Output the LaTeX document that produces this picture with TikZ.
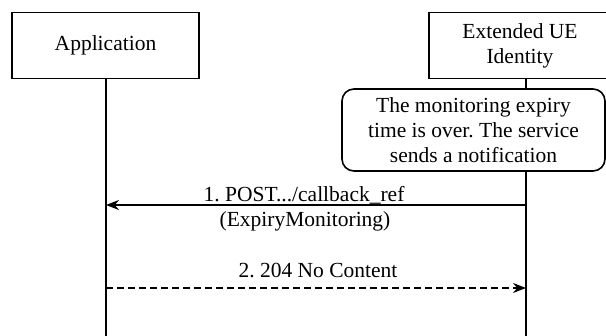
\documentclass[tikz,border=0pt]{standalone}
\usepackage{fontspec}
\setmainfont{Liberation Serif}
\usetikzlibrary{arrows.meta}
\begin{document}
\begin{tikzpicture}[x=1pt,y=-1pt,
  every node/.style={font=\fontsize{21.5}{25}\selectfont\frenchspacing},
  entity/.style={draw,line width=1.6pt,inner sep=0pt,align=center},
  note/.style={draw,line width=1.6pt,rounded corners=12pt,inner sep=0pt,align=center},
  life/.style={line width=1.6pt},
  msg/.style={line width=1.6pt,-{Stealth[length=13pt,width=10pt]}},
  reply/.style={msg,dash pattern=on 7pt off 4pt},
  lbl/.style={anchor=base,inner sep=0pt}]
\useasboundingbox (0,0) rectangle (606,336);
\node[entity,minimum width=187pt,minimum height=66pt] (app) at (105.5,45.5) {Application};
\node[entity,minimum width=182pt,minimum height=66pt] (ue) at (520,45.5) {Extended UE\\Identity};
\node[note,minimum width=263pt,minimum height=82pt] (nt) at (473.5,130) {The monitoring expiry\\time is over. The service\\sends a notification};
\coordinate (appEnd) at (106,340);
\coordinate (ueEnd) at (526,340);
\draw[life] (app.south -| appEnd) -- (appEnd);
\draw[life] (ue.south -| ueEnd) -- (nt.north -| ueEnd);
\draw[life] (nt.south -| ueEnd) -- (ueEnd);
\coordinate (a1s) at (526,205);
\coordinate (a1e) at (106,205);
\coordinate (a2s) at (106,288);
\coordinate (a2e) at (526,288);
\draw[msg] (a1s) -- (a1e);
\draw[reply] (a2s) -- (a2e);
\node[lbl] (l1a) at (304,202) {1. POST.../callback\_ref};
\node[lbl] (l1b) at (305,227) {(ExpiryMonitoring)};
\node[lbl] (l2) at (318,278) {2. 204 No Content};
\end{tikzpicture}
\end{document}
